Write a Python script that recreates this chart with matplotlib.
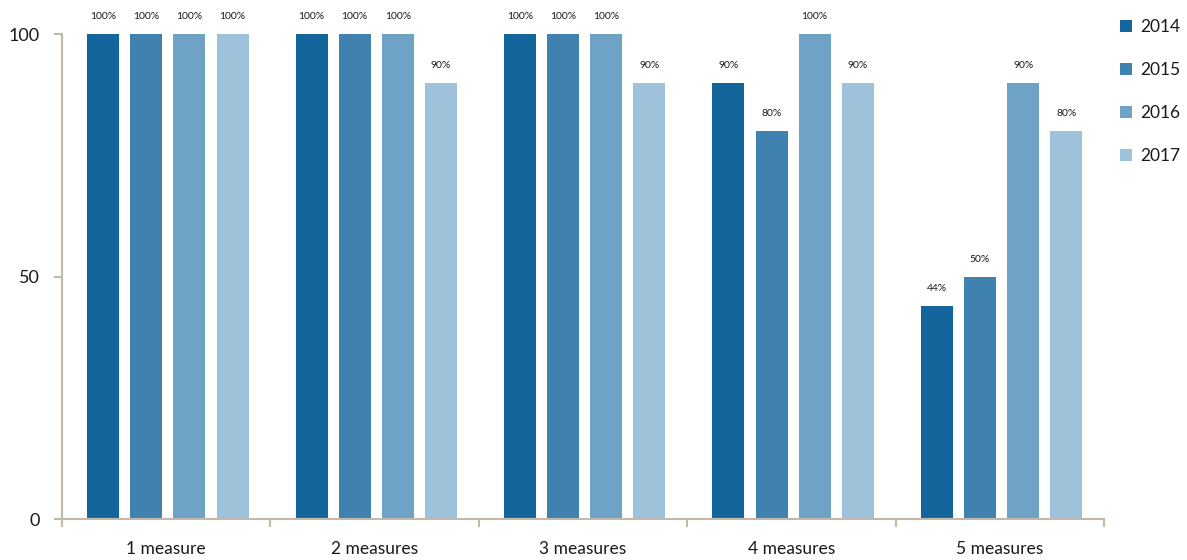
import numpy as np
import matplotlib.pyplot as plt

plt.rcParams['font.family'] = ['Lato', 'DejaVu Sans']

categories = ['1 measure', '2 measures', '3 measures', '4 measures', '5 measures']
years = ['2014', '2015', '2016', '2017']
values = {
    '2014': [100, 100, 100, 90, 44],
    '2015': [100, 100, 100, 80, 50],
    '2016': [100, 100, 100, 100, 90],
    '2017': [100, 90, 90, 90, 80],
}
colors = ['#13659c', '#3f82b0', '#6fa3c6', '#9ec2da']
axis_color = '#c4b8aa'

fig = plt.figure(figsize=(11.87, 5.6), dpi=100)
ax = fig.add_axes([0.0522, 0.0732, 0.878, 0.866])

x = np.arange(len(categories))
bar_w = 0.154
pitch = 0.207
for i, yr in enumerate(years):
    pos = x + (i - 1.5) * pitch + 0.008
    bars = ax.bar(pos, values[yr], width=bar_w, color=colors[i], label=yr)
    for b, v in zip(bars, values[yr]):
        ax.text(b.get_x() + b.get_width() / 2, v + 2.6, f'{v}%',
                ha='center', va='bottom', fontsize=7.5, color='#1a1a1a',
                clip_on=False)

ax.set_xlim(-0.5, len(categories) - 0.5)
ax.set_ylim(0, 100)
ax.set_yticks([0, 50, 100])
ax.set_xticks(x)
ax.set_xticklabels(categories)
ax.set_xticks(np.arange(len(categories) + 1) - 0.5, minor=True)
ax.tick_params(axis='x', which='major', length=0, labelsize=12.5, pad=16,
               labelcolor='#1a1a1a')
ax.tick_params(axis='x', which='minor', length=6, color=axis_color, width=1.5)
ax.tick_params(axis='y', length=6, color=axis_color, width=1.5, labelsize=13,
               pad=10, labelcolor='#1a1a1a')

for s in ['top', 'right']:
    ax.spines[s].set_visible(False)
for s in ['left', 'bottom']:
    ax.spines[s].set_color(axis_color)
    ax.spines[s].set_linewidth(1.5)

leg = ax.legend(loc='upper left', bbox_to_anchor=(1.0, 1.063), frameon=False,
                fontsize=12.5, handlelength=0.7, handleheight=0.7,
                labelspacing=1.55, handletextpad=0.5)
for t in leg.get_texts():
    t.set_color('#1a1a1a')

fig.savefig('out.png', dpi=100)
